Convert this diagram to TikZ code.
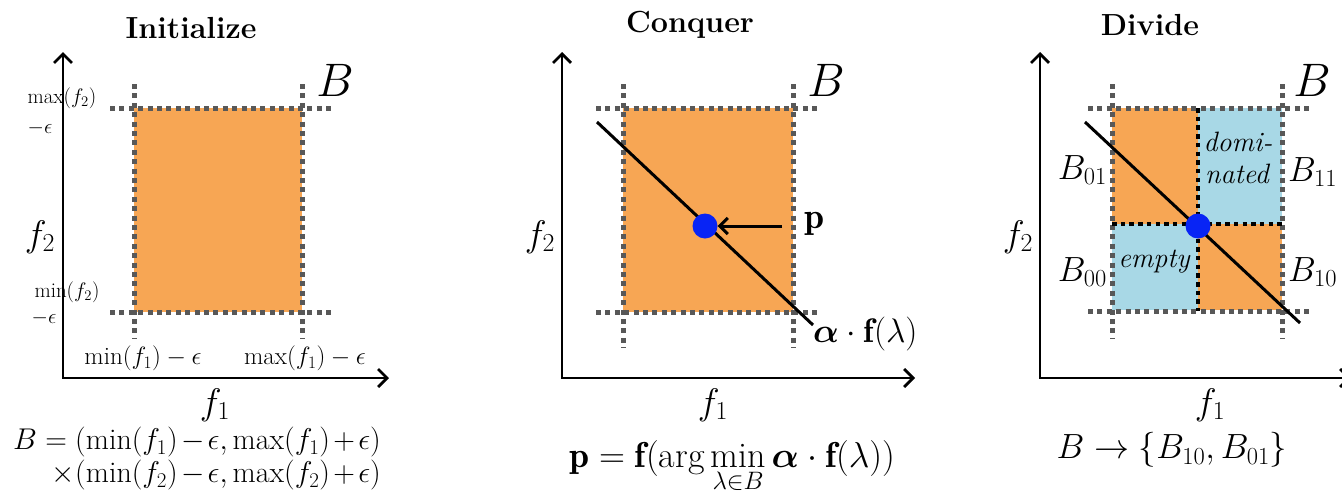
\RequirePackage{fix-cm}
\documentclass[tikz,border=0pt]{standalone}
\usepackage{amsmath}
\usepackage{bm}
\usepackage{fontspec}
\usetikzlibrary{arrows.meta}
\definecolor{boxorange}{RGB}{247,166,84}
\definecolor{boxblue}{RGB}{168,216,230}
\definecolor{dotgray}{RGB}{88,88,88}
\definecolor{dotblue}{RGB}{8,36,245}
\begin{document}
\begin{tikzpicture}[x=1pt,y=-1pt,
  axis/.style={line width=2.8pt,{Straight Barb[length=9pt,width=18pt,line width=2.8pt]}-{Straight Barb[length=9pt,width=18pt,line width=2.8pt]}},
  gdash/.style={draw=dotgray,line width=5pt,dash pattern=on 5pt off 4.4pt},
  bdash/.style={draw=black,line width=4.5pt,dash pattern=on 4.5pt off 4.2pt},
  title/.style={font=\rmfamily\bfseries\fontsize{30.5}{34}\selectfont,inner sep=0pt},
  lbl/.style={inner sep=0pt,font=\fontsize{37}{40}\selectfont},
  bigB/.style={inner sep=0pt,font=\fontsize{47}{50}\selectfont},
  tick/.style={inner sep=0pt,font=\fontsize{21}{24}\selectfont},
  xtick/.style={inner sep=0pt,font=\fontsize{25}{28}\selectfont},
  formula/.style={inner sep=0pt,font=\fontsize{30}{34}\selectfont},
  sub/.style={inner sep=0pt,font=\fontsize{35}{38}\selectfont},
  itx/.style={inner sep=0pt,font=\rmfamily\itshape\fontsize{28}{32}\selectfont},
  fline/.style={line width=3pt,draw=black},
  pdot/.style={circle,fill=dotblue,inner sep=0pt,minimum size=25pt},
  parrow/.style={line width=3pt,-{Straight Barb[length=8pt,width=16pt,line width=3pt]}}
]
\useasboundingbox (0,0) rectangle (1342,493);

% ================= Panel 1: Initialize =================
\node[title] (t1) at (191,28) {Initialize};
\fill[boxorange] (134,108) rectangle (302,312);
\draw[gdash] (110,108) -- (332,108);
\draw[gdash] (110,312) -- (332,312);
\draw[gdash] (134,84) -- (134,338);
\draw[gdash] (302,84) -- (302,338);
\coordinate (y1) at (63,52);
\coordinate (o1) at (63,378);
\coordinate (x1) at (389,378);
\draw[axis] (y1) -- (o1) -- (x1);
\node[bigB] (B1) at (335,80) {$B$};
\node[tick] (mx2) at (62,98) {$\max(f_2)$};
\node[tick] (me1) at (40,128) {$-\epsilon$};
\node[tick] (mn2) at (67,292) {$\min(f_2)$};
\node[tick] (me2) at (44,318) {$-\epsilon$};
\node[lbl] (f21) at (40,237) {$f_2$};
\node[lbl] (f11) at (215,405) {$f_1$};
\node[xtick] (mnf1) at (143,358) {$\min(f_1)-\epsilon$};
\node[xtick] (mxf1) at (305,358) {$\max(f_1)-\epsilon$};
\node[formula,anchor=east] (F1a) at (381,442) {$B=(\min(f_1)\mskip-2mu-\mskip-2mu\epsilon,\max(f_1)\mskip-2mu+\mskip-2mu\epsilon)$};
\node[formula,anchor=east] (F1b) at (381,475) {$\times(\min(f_2)\mskip-2mu-\mskip-2mu\epsilon,\max(f_2)\mskip-2mu+\mskip-2mu\epsilon)$};

% ================= Panel 2: Conquer =================
\node[title] (t2) at (690,25) {Conquer};
\fill[boxorange] (623,108) rectangle (793,312);
\draw[gdash] (596,108) -- (820,108);
\draw[gdash] (596,312) -- (820,312);
\draw[gdash] (623,84) -- (623,348);
\draw[gdash] (793,84) -- (793,348);
\coordinate (y2) at (562,52);
\coordinate (o2) at (562,378);
\coordinate (x2) at (915,378);
\draw[axis] (y2) -- (o2) -- (x2);
\coordinate (l2a) at (597,122);
\coordinate (l2b) at (813,325);
\draw[fline] (l2a) -- (l2b);
\node[pdot] (p2) at (705,226) {};
\node[lbl,font=\fontsize{36}{40}\selectfont] (plab) at (814,224) {$\mathbf{p}$};
\coordinate (pa) at (782,226);
\draw[parrow] (pa) -- (p2.east);
\node[bigB] (B2) at (826,80) {$B$};
\node[formula,anchor=west,font=\fontsize{34}{38}\selectfont] (al2) at (813,334) {$\boldsymbol{\alpha}\cdot\mathbf{f}(\lambda)$};
\node[lbl] (f22) at (540,237) {$f_2$};
\node[lbl] (f12) at (713,405) {$f_1$};
\node[formula,font=\fontsize{36}{40}\selectfont] (F2) at (732,467) {$\mathbf{p}=\mathbf{f}(\arg\min\limits_{\lambda\in B}\boldsymbol{\alpha}\cdot\mathbf{f}(\lambda))$};

% ================= Panel 3: Divide =================
\node[title] (t3) at (1150,25) {Divide};
\fill[boxorange] (1112,108) rectangle (1282,310);
\fill[boxblue] (1198,108) rectangle (1282,224);
\fill[boxblue] (1112,224) rectangle (1198,310);
\draw[gdash] (1088,108) -- (1310,108);
\draw[gdash] (1088,311) -- (1310,311);
\draw[gdash] (1112,84) -- (1112,338);
\draw[gdash] (1282,84) -- (1282,338);
\draw[bdash] (1198,108) -- (1198,311);
\draw[bdash] (1112,224) -- (1282,224);
\coordinate (y3) at (1040,52);
\coordinate (o3) at (1040,378);
\coordinate (x3) at (1351,378);
\draw[axis] (y3) -- (o3) -- (x3);
\coordinate (l3a) at (1085,122);
\coordinate (l3b) at (1300,323);
\draw[fline] (l3a) -- (l3b);
\node[pdot] (p3) at (1198,226) {};
\node[bigB] (B3) at (1312,80) {$B$};
\node[itx] (dom) at (1238,142) {domi-};
\node[itx] (nat) at (1237,174) {nated};
\node[itx] (emp) at (1154,262) {empty};
\node[sub,anchor=east] (B01) at (1107,170) {$B_{01}$};
\node[sub,anchor=west] (B11) at (1288,172) {$B_{11}$};
\node[sub,anchor=east] (B00) at (1107,272) {$B_{00}$};
\node[sub,anchor=west] (B10) at (1288,272) {$B_{10}$};
\node[lbl] (f23) at (1018,237) {$f_2$};
\node[lbl] (f13) at (1210,405) {$f_1$};
\node[formula,font=\fontsize{35}{38}\selectfont] (F3) at (1172,450) {$B\rightarrow\{B_{10},B_{01}\}$};
\end{tikzpicture}
\end{document}
